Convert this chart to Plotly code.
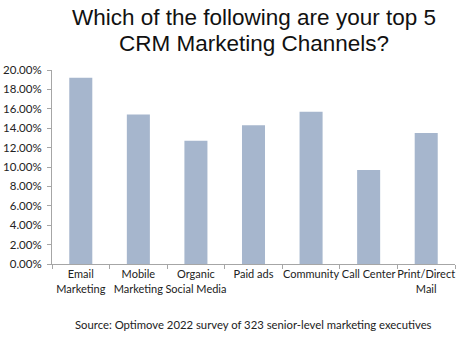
import plotly.graph_objects as go

# Survey results: share of respondents naming each channel in their top 5
channels = ["Email<br>Marketing", "Mobile<br>Marketing", "Organic<br>Social Media",
            "Paid ads", "Community", "Call Center", "Print/Direct<br>Mail"]
shares = [0.192, 0.154, 0.127, 0.143, 0.157, 0.097, 0.135]
y_ticks = [0.00, 0.02, 0.04, 0.06, 0.08, 0.10, 0.12, 0.14, 0.16, 0.18, 0.20]

title_lines = ["Which of the following are your top 5", "CRM Marketing Channels?"]
source_text = "Source: Optimove 2022 survey of 323 senior-level marketing executives"

label_font = dict(family="Lato, Open Sans, sans-serif", size=11, color="#222222")
title_font = dict(family="Liberation Sans, Arial, sans-serif", size=22.5, color="#111111")
axis_gray = "#A6A6A6"

fig = go.Figure(
    go.Bar(
        x=channels,
        y=shares,
        marker=dict(color="#A6B6CD", line=dict(width=0)),
        hoverinfo="x+y",
    )
)

annotations = [
    dict(text=line, xref="paper", yref="paper", x=0.5, y=1.0 + dy,
         xanchor="center", yanchor="middle", showarrow=False, font=title_font)
    for line, dy in zip(title_lines, [0.27, 0.135])
]
annotations.append(
    dict(
        text=source_text,
        xref="paper", yref="paper",
        x=0.5, y=-0.31,
        xanchor="center", yanchor="middle",
        showarrow=False,
        font=dict(family="Lato, Open Sans, sans-serif", size=11.3, color="#222222"),
    )
)

fig.update_layout(
    width=474,
    height=348,
    margin=dict(l=52, r=19, t=70, b=84, autoexpand=False),
    paper_bgcolor="white",
    plot_bgcolor="white",
    bargap=0.6,
    showlegend=False,
    annotations=annotations,
)

fig.update_yaxes(
    range=[0, 0.20],
    tickvals=y_ticks,
    tickformat=".2%",
    tickfont=dict(family="Lato, Open Sans, sans-serif", size=11.5, color="#222222"),
    showgrid=False,
    zeroline=False,
    showline=True,
    linecolor=axis_gray,
    linewidth=1,
    ticks="outside",
    ticklen=4,
    tickcolor=axis_gray,
    ticklabelstandoff=3,
    automargin=False,
)

fig.update_xaxes(
    tickfont=label_font,
    showgrid=False,
    showline=True,
    linecolor=axis_gray,
    linewidth=1,
    ticks="outside",
    tickson="boundaries",
    ticklen=4,
    tickcolor=axis_gray,
    tickangle=0,
    automargin=False,
)

fig.write_html("out.html")
